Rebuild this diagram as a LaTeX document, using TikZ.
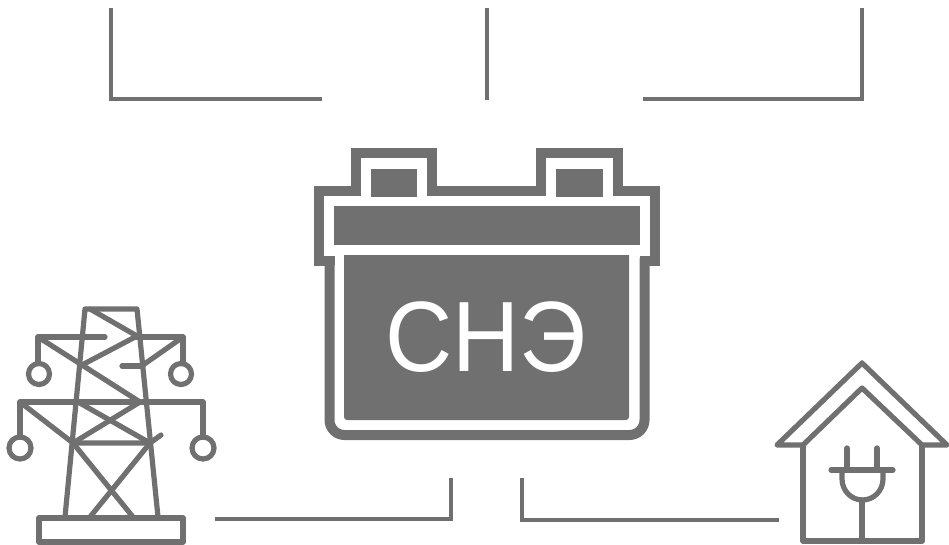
\documentclass[tikz,border=0pt]{standalone}
\usepackage{fontspec}
\setmainfont{Liberation Sans}
\definecolor{ink}{HTML}{707070}
\tikzset{
  wire/.style={draw=ink,line width=3.2pt},
  icon/.style={draw=ink,line width=5.2pt,line cap=round,line join=round},
  shell/.style={draw=ink,line width=10pt,line join=miter},
  solid block/.style={fill=ink}
}
\begin{document}
\begin{tikzpicture}[x=1pt,y=-1pt]
\useasboundingbox (0,0) rectangle (949,545);
% connectors
\coordinate (a1) at (111,8);\coordinate (a2) at (111,99);\coordinate (a3) at (322,99);
\draw[wire] (a1) -- (a2) -- (a3);
\coordinate (b1) at (487,8);\coordinate (b2) at (487,100);
\draw[wire] (b1) -- (b2);
\coordinate (c1) at (862,8);\coordinate (c2) at (862,99);\coordinate (c3) at (643,99);
\draw[wire] (c1) -- (c2) -- (c3);
\coordinate (d1) at (215,519);\coordinate (d2) at (451,519);\coordinate (d3) at (451,478);
\draw[wire] (d1) -- (d2) -- (d3);
\coordinate (e1) at (522,478);\coordinate (e2) at (522,520);\coordinate (e3) at (779,520);
\draw[wire] (e1) -- (e2) -- (e3);
% battery
\draw[shell] (329.5,265) -- (329.5,260.5) -- (318.5,260.5) -- (318.5,191) -- (356,191) -- (356,153) -- (432,153) -- (432,191) -- (541,191) -- (541,153) -- (618,153) -- (618,191) -- (655,191) -- (655,260.5) -- (644.5,260.5) -- (644.5,265);
\draw[shell,rounded corners=15pt] (329.5,258) -- (329.5,435) -- (644.5,435) -- (644.5,258);
\fill[solid block] (371,169) rectangle (417,197);
\fill[solid block] (556,169) rectangle (603,197);
\fill[solid block] (334,206.5) rectangle (639.5,245);
\fill[solid block,rounded corners=3pt] (344,240) rectangle (629,420);
\fill[white] (334,245) rectangle (639.5,255);
\node[text=white,font=\fontsize{100}{100}\selectfont,inner sep=0pt,xscale=.93] (label) at (486,337) {СНЭ};
% tower
\begin{scope}[icon]
\draw (65,517) -- (85,309) -- (137,309) -- (158,517);
\draw (39,518) rectangle (183,542);
\draw (105,337) -- (38,337) -- (38,363);
\draw (135,337) -- (183,337) -- (183,363);
\draw (39,374) circle (10.5);
\draw (181,374) circle (10.5);
\draw (38,337) -- (82,365) -- (140,402);
\draw (90,309) -- (137,336) -- (82,365);
\draw (183,337) -- (143,365);
\draw (122,366) -- (143,366);
\draw (20,402) -- (203,402);
\draw (20,402) -- (20,437);
\draw (203,402) -- (203,437);
\draw (20,448) circle (11);
\draw (203,448) circle (11);
\draw (20,402) -- (73,443) -- (150,443) -- (161,435);
\draw (78,402) -- (150,443);
\draw (140,402) -- (73,443);
\draw (73,443) -- (133,517);
\draw (150,443) -- (90,517);
\end{scope}
% house
\begin{scope}[icon]
\draw (862,363) -- (777,445) -- (803,445);
\draw (862,363) -- (947,445) -- (922,445);
\draw (803,445) -- (862,388) -- (922,445);
\draw (803,445) -- (803,541) -- (922,541) -- (922,445);
\draw (831,470) -- (893,470);
\draw (847,448) -- (847,470);
\draw (877,448) -- (877,470);
\draw (842,470) -- (842,479) arc[start angle=180,end angle=0,x radius=20.5,y radius=21] -- (883,470);
\draw (862,500) -- (862,541);
\end{scope}
\end{tikzpicture}
\end{document}
